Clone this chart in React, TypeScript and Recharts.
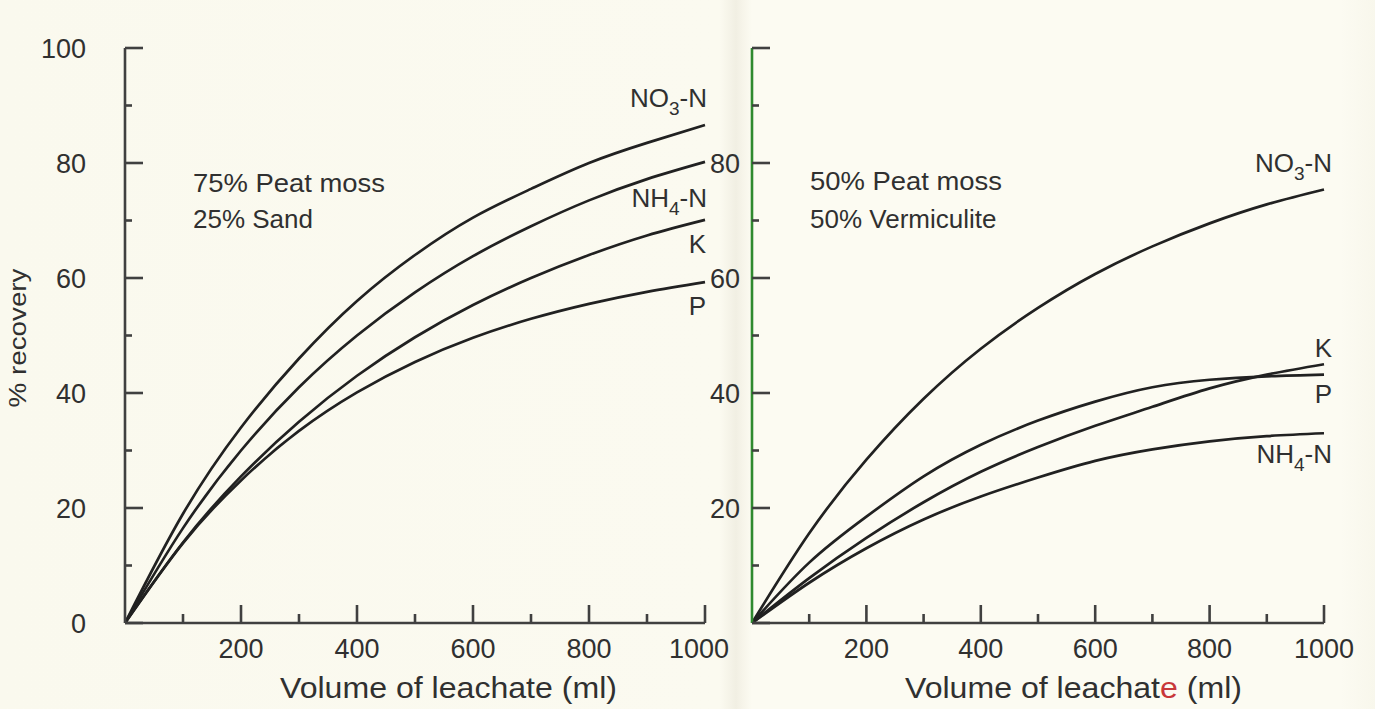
import React from 'react';
import { LineChart, Line, XAxis, YAxis } from 'recharts';

// ---- data ----
const volumes = [0, 100, 200, 300, 400, 500, 600, 700, 800, 900, 1000];

// 75% Peat moss / 25% Sand
const leftNO3 = [0, 19, 34, 46, 56, 64, 70.5, 75.5, 80, 83.5, 86.6];
const leftNH4 = [0, 16.5, 30, 41, 50, 57.5, 63.8, 69, 73.5, 77.2, 80.2];
const leftK = [0, 14, 25.5, 35, 43, 49.7, 55.3, 60, 64, 67.4, 70.1];
const leftP = [0, 13.9, 24.8, 33.4, 40.1, 45.4, 49.6, 52.9, 55.5, 57.6, 59.3];

// 50% Peat moss / 50% Vermiculite
const rightNO3 = [0, 15.6, 28.4, 39, 47.7, 54.8, 60.7, 65.5, 69.5, 72.8, 75.4];
const rightP = [0, 10.5, 18.5, 25.5, 31, 35.2, 38.5, 41, 42.3, 42.9, 43.2];
const rightK = [0, 7.8, 14.8, 21, 26.3, 30.6, 34.3, 37.6, 40.8, 43.2, 45];
const rightNH4 = [0, 7, 13, 18, 22, 25.3, 28.2, 30.2, 31.6, 32.5, 33];

const xTicks = [0, 100, 200, 300, 400, 500, 600, 700, 800, 900, 1000];
const yTicks = [0, 10, 20, 30, 40, 50, 60, 70, 80, 90, 100];
const leftYLabels = [0, 20, 40, 60, 80, 100];
const rightYLabels = [20, 40, 60, 80];
const xLabels = [200, 400, 600, 800, 1000];

const leftData = volumes.map((v, i) => ({ v, no3: leftNO3[i], nh4: leftNH4[i], k: leftK[i], p: leftP[i] }));
const rightData = volumes.map((v, i) => ({ v, no3: rightNO3[i], nh4: rightNH4[i], k: rightK[i], p: rightP[i] }));

// ---- styles ----
const FONT = '"Liberation Sans", Arial, Helvetica, sans-serif';
const TEXT = '#303030';
const AXIS = '#404040';
const LINE = '#212121';
const GREEN = '#2f8a2f';

const makeYTick = (labels: number[], gap: number) => (props: any) => {
  const { x, y, payload } = props;
  const v = payload.value;
  const major = v % 20 === 0;
  const len = major ? 18 : 7;
  return (
    <g>
      <line x1={x} y1={y} x2={x + len} y2={y} stroke={AXIS} strokeWidth={2.6} />
      {labels.includes(v) ? (
        <text x={x - gap} y={y + 9.5} textAnchor="end" fontFamily={FONT} fontSize={27} fill={TEXT}>
          {v}
        </text>
      ) : null}
    </g>
  );
};

const makeXTick = (shift1000: number) => (props: any) => {
  const { x, y, payload } = props;
  const v = payload.value;
  if (v === 0) return <g />;
  const major = v % 200 === 0;
  const len = major ? 18 : 9;
  return (
    <g>
      <line x1={x} y1={y} x2={x} y2={y - len} stroke={AXIS} strokeWidth={2.6} />
      {xLabels.includes(v) ? (
        <text x={x + (v === 1000 ? shift1000 : 0)} y={y + 35} textAnchor="middle" fontFamily={FONT} fontSize={27} fill={TEXT}>
          {v}
        </text>
      ) : null}
    </g>
  );
};

const Panel = ({ data, left, width, margin, yColor, yLabels, yGap, shift1000 }: any) => (
  <div style={{ position: 'absolute', left, top: 0 }}>
    <LineChart width={width} height={709} data={data} margin={margin}>
      <XAxis
        dataKey="v"
        type="number"
        domain={[0, 1000]}
        ticks={xTicks}
        interval={0}
        height={1}
        tickSize={0}
        tickMargin={0}
        tickLine={false}
        axisLine={{ stroke: AXIS, strokeWidth: 2.6 }}
        tick={makeXTick(shift1000)}
      />
      <YAxis
        type="number"
        domain={[0, 100]}
        ticks={yTicks}
        interval={0}
        width={1}
        tickSize={0}
        tickMargin={0}
        tickLine={false}
        axisLine={{ stroke: yColor, strokeWidth: 2.6 }}
        tick={makeYTick(yLabels, yGap)}
      />
      <Line type="natural" dataKey="no3" stroke={LINE} strokeWidth={2.7} dot={false} isAnimationActive={false} />
      <Line type="natural" dataKey="nh4" stroke={LINE} strokeWidth={2.7} dot={false} isAnimationActive={false} />
      <Line type="natural" dataKey="k" stroke={LINE} strokeWidth={2.7} dot={false} isAnimationActive={false} />
      <Line type="natural" dataKey="p" stroke={LINE} strokeWidth={2.7} dot={false} isAnimationActive={false} />
    </LineChart>
  </div>
);

const Sub = ({ base, sub, rest }: { base: string; sub: string; rest: string }) => (
  <>
    {base}
    <tspan dy={8} fontSize={19}>{sub}</tspan>
    <tspan dy={-8}>{rest}</tspan>
  </>
);

export default function App() {
  const t = { fontFamily: FONT, fill: TEXT } as any;
  return (
    <div
      style={{
        position: 'absolute',
        left: 0,
        top: 0,
        width: 1375,
        height: 709,
        overflow: 'hidden',
        background:
          'linear-gradient(to right, #faf9ee 0px, #fbfaf0 720px, #f1efe3 736px, #f6f4e9 742px, #fcfbf2 752px, #fcfbf2 1340px, #f8f7ec 1375px)',
      }}
    >
      <Panel
        data={leftData}
        left={0}
        width={740}
        margin={{ top: 48, right: 35, bottom: 85, left: 124 }}
        yColor={AXIS}
        yLabels={leftYLabels}
        yGap={39}
        shift1000={-6}
      />
      <Panel
        data={rightData}
        left={700}
        width={675}
        margin={{ top: 48, right: 51, bottom: 85, left: 51 }}
        yColor={GREEN}
        yLabels={rightYLabels}
        yGap={12}
        shift1000={0}
      />
      <svg width={1375} height={709} style={{ position: 'absolute', left: 0, top: 0, pointerEvents: 'none' }}>
        {/* axis titles */}
        <text x={280} y={698} fontSize={30} textLength={337} lengthAdjust="spacingAndGlyphs" {...t}>
          Volume of leachate (ml)
        </text>
        <text x={905} y={698} fontSize={30} textLength={337} lengthAdjust="spacingAndGlyphs" {...t}>
          Volume of leachat<tspan fill="#c8383a">e</tspan> (ml)
        </text>
        <text
          transform="translate(26,338) rotate(-90)"
          x={0}
          y={0}
          textAnchor="middle"
          fontSize={24}
          textLength={139}
          lengthAdjust="spacingAndGlyphs"
          {...t}
        >
          % recovery
        </text>

        {/* substrate annotations */}
        <text x={193} y={192} fontSize={26} textLength={192} lengthAdjust="spacingAndGlyphs" {...t}>75% Peat moss</text>
        <text x={193} y={228} fontSize={26} {...t}>25% Sand</text>
        <text x={810} y={190} fontSize={26} textLength={192} lengthAdjust="spacingAndGlyphs" {...t}>50% Peat moss</text>
        <text x={810} y={228} fontSize={26} {...t}>50% Vermiculite</text>

        {/* curve labels, left */}
        <text x={707} y={107} textAnchor="end" fontSize={26} {...t}><Sub base="NO" sub="3" rest="-N" /></text>
        <text x={707} y={207} textAnchor="end" fontSize={26} {...t}><Sub base="NH" sub="4" rest="-N" /></text>
        <text x={706} y={253} textAnchor="end" fontSize={26} {...t}>K</text>
        <text x={706} y={315} textAnchor="end" fontSize={26} {...t}>P</text>

        {/* curve labels, right */}
        <text x={1332} y={172} textAnchor="end" fontSize={26} {...t}><Sub base="NO" sub="3" rest="-N" /></text>
        <text x={1332} y={357} textAnchor="end" fontSize={26} {...t}>K</text>
        <text x={1332} y={403} textAnchor="end" fontSize={26} {...t}>P</text>
        <text x={1332} y={463} textAnchor="end" fontSize={26} {...t}><Sub base="NH" sub="4" rest="-N" /></text>
      </svg>
    </div>
  );
}
